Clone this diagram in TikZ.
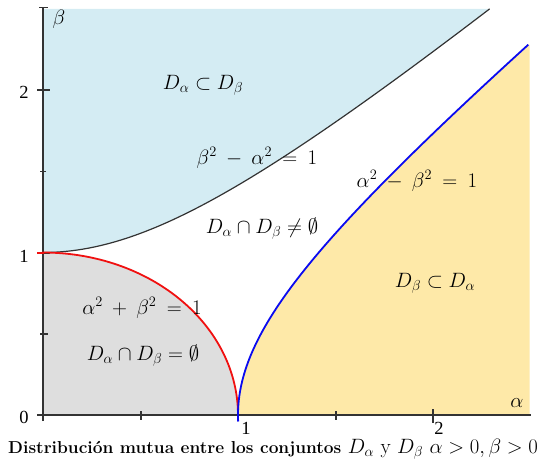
\documentclass[tikz,border=0pt]{standalone}
\usepackage{fontspec}
\usepackage{amssymb}
\newfontfamily\tickfont{Liberation Serif}
\definecolor{bluefill}{HTML}{D4ECF3}
\definecolor{grayfill}{HTML}{DEDEDE}
\definecolor{yellowfill}{HTML}{FEE9A8}
\definecolor{axisgray}{HTML}{333333}
\definecolor{curveblue}{HTML}{0A0AF0}
\definecolor{curvered}{HTML}{F01010}
\newcommand{\eqspacing}{\medmuskip=8mu\relax\thickmuskip=9mu\relax}
\tikzset{
  axisline/.style={draw=axisgray, line width=1.3pt},
  tickline/.style={draw=axisgray, line width=1.1pt},
  biglabel/.style={font=\fontsize{21}{24}\selectfont, inner sep=0pt},
  ticklabel/.style={font=\tickfont\fontsize{18.5}{20}\selectfont, inner sep=0pt},
}
\begin{document}
\begin{tikzpicture}[x=1pt,y=-1pt]
\useasboundingbox (0,0) rectangle (547,467);
% fills
\fill[bluefill] (43,8.75) -- plot[domain=0:2.2913,samples=80] ({43+195*\x},{415-162.5*sqrt(1+\x*\x)}) -- cycle;
\fill[grayfill] (43,415) -- plot[domain=90:0,samples=80] ({43+195*cos(\x)},{415-162.5*sin(\x)}) -- cycle;
\fill[yellowfill] (238,415) -- plot[domain=0:2.28,samples=100] ({43+195*sqrt(1+\x*\x)},{415-162.5*\x}) -- (529.5,44.5) -- (529.5,415) -- cycle;
% axes
\coordinate (ytop) at (43,7.5);
\coordinate (ybot) at (43,421);
\coordinate (xleft) at (37,415);
\coordinate (xright) at (531,415);
\draw[axisline] (ybot) -- (ytop);
\draw[axisline] (xleft) -- (xright);
\draw[tickline] (39,7.5) -- (48,7.5);
% y ticks
\draw[tickline] (37,90) -- (50,90);
\draw[tickline] (40,171.5) -- (46,171.5);
\draw[tickline] (37,253) -- (50,253);
\draw[tickline] (40,334) -- (48,334);
% x ticks
\draw[tickline] (141,411) -- (141,420);
\draw[tickline] (336,411) -- (336,420);
\draw[tickline] (433,409) -- (433,423);
% curves
\draw[axisgray, line width=1.2pt] plot[domain=0:2.2913,samples=80] ({43+195*\x},{415-162.5*sqrt(1+\x*\x)});
\draw[curvered, line width=1.8pt] (37,253) -- (43,253) -- plot[domain=90:0,samples=80] ({43+195*cos(\x)},{415-162.5*sin(\x)});
\draw[curveblue, line width=1.8pt] plot[domain=-0.04:2.28,samples=120] ({43+195*sqrt(1+\x*\x)},{415-162.5*\x});
% tick labels
\node[ticklabel] (y2) at (24,92) {2};
\node[ticklabel] (y1) at (24,256) {1};
\node[ticklabel] (y0) at (24,417.5) {0};
\node[ticklabel] (x1) at (246,428) {1};
\node[ticklabel] (x2) at (439,428) {2};
\node[biglabel] (beta) at (59,19) {$\beta$};
\node[biglabel] (alpha) at (517,403) {$\alpha$};
% region labels
\node[biglabel] (l1) at (203,85) {$D_\alpha \subset D_\beta$};
\node[biglabel] (l2) at (257,158) {$\eqspacing\beta^2-\alpha^2=1$};
\node[biglabel] (l3) at (262,229) {$D_\alpha \cap D_\beta \neq \emptyset$};
\node[biglabel] (l4) at (417,181) {$\eqspacing\alpha^2-\beta^2=1$};
\node[biglabel] (l5) at (435,283) {$D_\beta \subset D_\alpha$};
\node[biglabel] (l6) at (142,308) {$\eqspacing\alpha^2+\beta^2=1$};
\node[biglabel] (l7) at (143,356) {$D_\alpha \cap D_\beta = \emptyset$};
% caption
\node[inner sep=0pt, anchor=base west] (cap) at (8,453) {\fontsize{17.3}{20}\selectfont\bfseries Distribución mutua entre los conjuntos {\fontsize{21}{24}\selectfont\mdseries $D_\alpha$ y $D_\beta$ $\alpha>0,\beta>0$}};
\end{tikzpicture}
\end{document}
